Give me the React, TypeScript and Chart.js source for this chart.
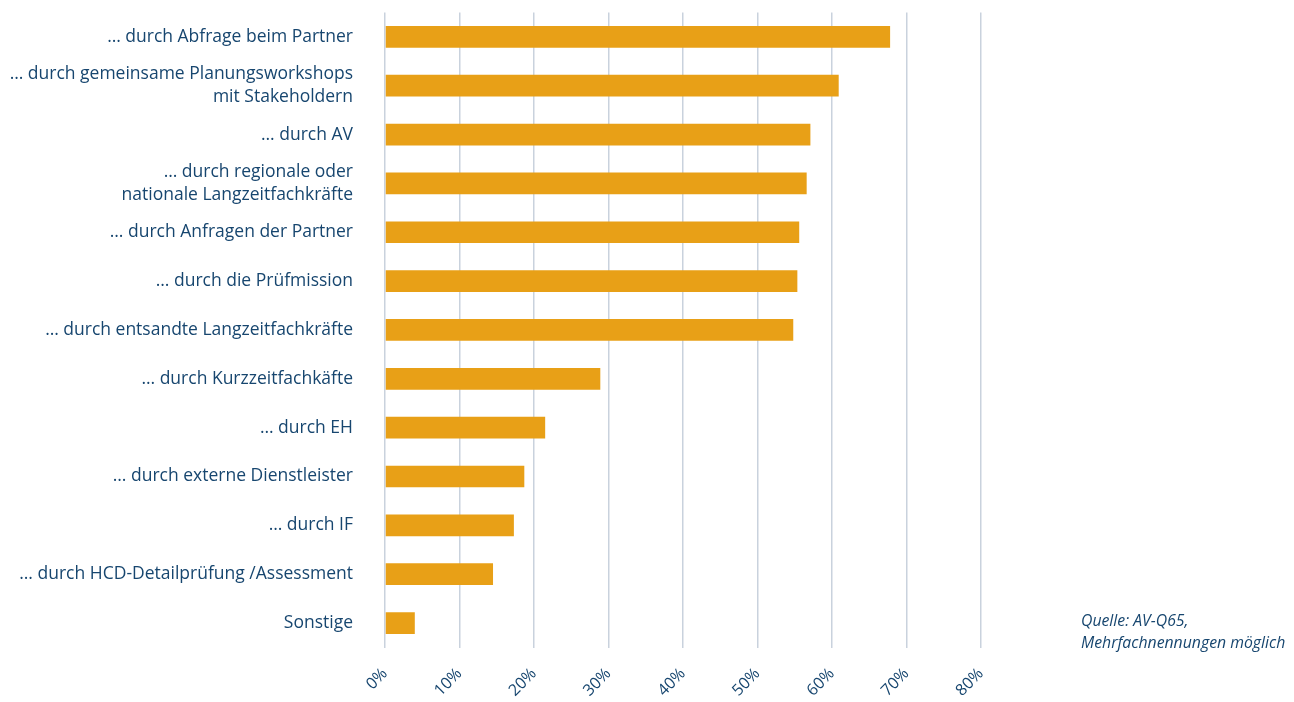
import React, { useEffect, useRef } from "react";
import { Chart, registerables } from "chart.js";

Chart.register(...registerables);

const categories: (string | string[])[] = [
  "… durch Abfrage beim Partner",
  ["… durch gemeinsame Planungsworkshops", "mit Stakeholdern"],
  "… durch AV",
  ["… durch regionale oder", "nationale Langzeitfachkräfte"],
  "… durch Anfragen der Partner",
  "… durch die Prüfmission",
  "… durch entsandte Langzeitfachkräfte",
  "… durch Kurzzeitfachkäfte",
  "… durch EH",
  "… durch externe Dienstleister",
  "… durch IF",
  "… durch HCD-Detailprüfung /Assessment",
  "Sonstige",
];

const values: number[] = [67.8, 60.9, 57.1, 56.6, 55.6, 55.35, 54.8, 28.9, 21.5, 18.7, 17.3, 14.5, 4.0];

const xMin = 0;
const xMax = 80;
const xStep = 10;

const sourceLines: string[] = ["Quelle: AV-Q65,", "Mehrfachnennungen möglich"];

const TEXT = "#17466f";
const BAR = "#e8a017";
const GRID = "#c9d2dd";
const FONT = "'Open Sans', 'Noto Sans', sans-serif";

export default function App() {
  const ref = useRef<HTMLCanvasElement | null>(null);

  useEffect(() => {
    document.body.style.margin = "0";
    const canvas = ref.current;
    if (!canvas) return;
    const chart = new Chart(canvas, {
      type: "bar",
      data: {
        labels: categories,
        datasets: [
          {
            data: values,
            backgroundColor: BAR,
            borderWidth: 0,
            categoryPercentage: 1,
            barPercentage: 0.444,
          },
        ],
      },
      options: {
        indexAxis: "y",
        animation: false,
        responsive: false,
        maintainAspectRatio: false,
        layout: { padding: { top: 12.4, right: 313, left: 0, bottom: 0 } },
        plugins: { legend: { display: false }, tooltip: { enabled: false } },
        scales: {
          x: {
            min: xMin,
            max: xMax,
            grid: { color: GRID, lineWidth: 1.5, drawTicks: false },
            border: { display: false },
            ticks: {
              stepSize: xStep,
              minRotation: 45,
              maxRotation: 45,
              autoSkip: false,
              padding: 17,
              color: TEXT,
              font: { family: FONT, size: 16 },
              callback: (v: any) => `${v}%`,
            },
            afterFit: (s: any) => {
              s.height = 54.5;
              s.paddingLeft = 0;
              s.paddingRight = 0;
            },
          },
          y: {
            grid: { display: false, drawTicks: false },
            border: { display: false },
            ticks: {
              autoSkip: false,
              padding: 32,
              color: TEXT,
              font: { family: FONT, size: 17.5, lineHeight: 1.3 },
            },
            afterFit: (s: any) => {
              s.width = 385;
              s.paddingTop = 0;
              s.paddingBottom = 0;
            },
          },
        },
      },
    });
    return () => chart.destroy();
  }, []);

  return (
    <div style={{ position: "relative", width: 1294, height: 702 }}>
      <canvas ref={ref} width={1294} height={702} style={{ display: "block" }} />
      <div
        style={{
          position: "absolute",
          left: 1081,
          top: 609,
          fontFamily: FONT,
          fontStyle: "italic",
          fontSize: 15.8,
          lineHeight: "22px",
          color: TEXT,
          whiteSpace: "nowrap",
        }}
      >
        {sourceLines.map((l, i) => (
          <div key={i}>{l}</div>
        ))}
      </div>
    </div>
  );
}
